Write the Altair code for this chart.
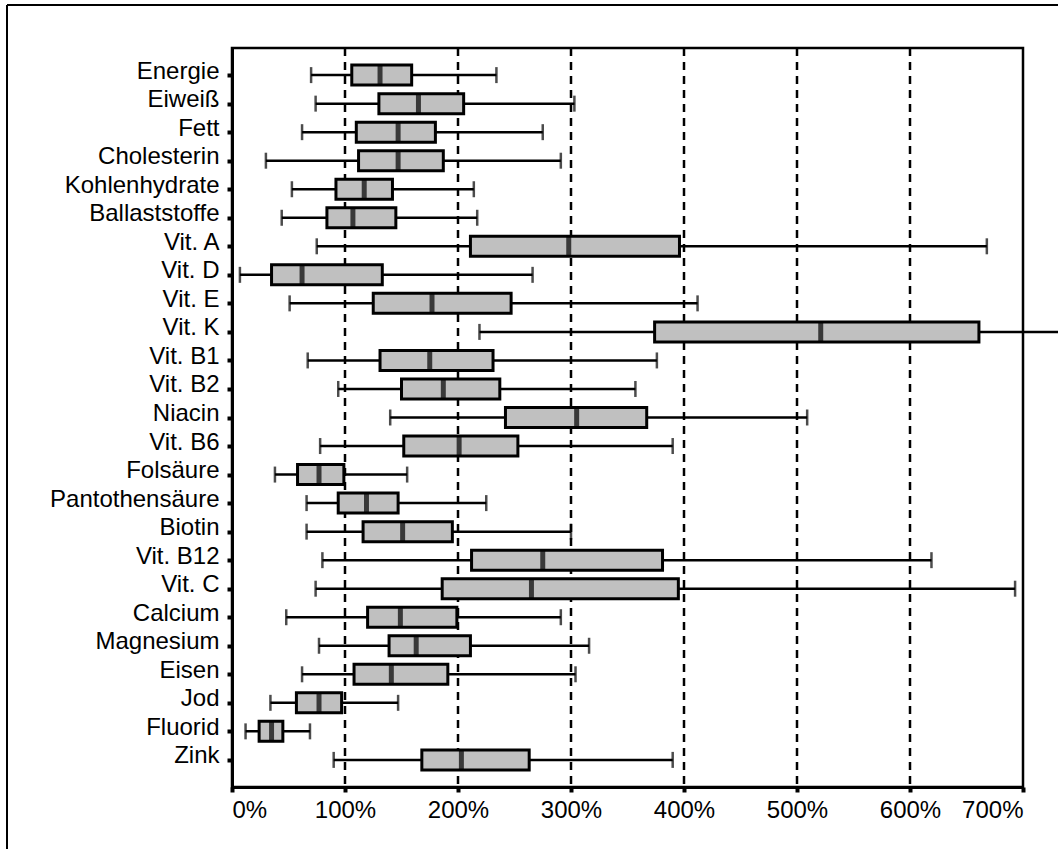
import altair as alt
import pandas as pd

NB = "\u00a0"
names = ["Energie", "Eiweiß" + NB, "Fett", "Cholesterin", "Kohlenhydrate", "Ballaststoffe" + NB,
         "Vit. A", "Vit. D", "Vit. E", "Vit. K", "Vit. B1", "Vit. B2", "Niacin", "Vit. B6",
         "Folsäure", "Pantothensäure", "Biotin", "Vit. B12", "Vit. C", "Calcium",
         "Magnesium", "Eisen", "Jod", "Fluorid", "Zink"]
low = [70, 74, 62, 30, 53, 44, 75, 7, 51, 219, 67, 94, 140, 78, 38, 66, 66, 80, 74, 48, 77, 62, 34, 12, 90]
q1 = [106, 130, 110, 112, 92, 84, 211, 35, 125, 374, 131, 150, 242, 152, 58, 94, 116, 212, 186, 120, 139, 108, 57, 24, 168]
med = [131, 165, 147, 147, 117, 107, 298, 62, 177, 521, 175, 187, 305, 201, 77, 119, 151, 275, 265, 149, 163, 141, 77, 35, 203]
q3 = [159, 205, 180, 187, 142, 145, 396, 133, 247, 661, 231, 237, 367, 253, 99, 147, 195, 381, 395, 199, 211, 191, 97, 45, 263]
high = [234, 303, 275, 291, 214, 217, 668, 266, 412, 740, 376, 357, 509, 390, 155, 225, 300, 619, 693, 291, 316, 304, 147, 69, 390]
x_ticks = [0, 100, 200, 300, 400, 500, 600, 700]
grid_values = [100, 200, 300, 400, 500, 600]

df = pd.DataFrame({"name": names, "low": low, "q1": q1, "med": med, "q3": q3, "high": high})
grid_df = pd.DataFrame({"v": grid_values})

FONT = "Liberation Sans"
FS = 24
xscale = alt.Scale(domain=[0, 700], nice=False, zero=False)
yscale = alt.Scale(type="point", domain=names, padding=0.95)

xaxis = alt.Axis(values=x_ticks, labelExpr="datum.value + '%'", title=None, grid=False,
                 domainColor="black", domainWidth=3, tickColor="black", tickSize=5, tickWidth=4,
                 labelFont=FONT, labelFontSize=FS, labelColor="black", labelPadding=6)
yaxis = alt.Axis(title=None, grid=False, domainColor="black", domainWidth=3, tickColor="black",
                 tickSize=5, tickWidth=4, labelFont=FONT, labelFontSize=FS, labelColor="black",
                 labelPadding=8, labelBaseline="alphabetic", labelOffset=3)

base = alt.Chart(df)

grid = alt.Chart(grid_df).mark_rule(color="black", strokeWidth=2.5, strokeDash=[8, 6]).encode(
    x=alt.X("v:Q", scale=xscale, axis=xaxis)
)
whisker = base.mark_rule(color="black", strokeWidth=2.5).encode(
    x=alt.X("low:Q", scale=xscale, axis=xaxis),
    x2="high:Q",
    y=alt.Y("name:N", scale=yscale, axis=yaxis, sort=names),
)
cap_low = base.mark_tick(color="black", thickness=2.5, size=16).encode(
    x=alt.X("low:Q", scale=xscale, axis=xaxis),
    y=alt.Y("name:N", scale=yscale, axis=yaxis, sort=names),
)
cap_high = base.mark_tick(color="black", thickness=2.5, size=16).encode(
    x=alt.X("high:Q", scale=xscale, axis=xaxis),
    y=alt.Y("name:N", scale=yscale, axis=yaxis, sort=names),
)
box = base.mark_bar(size=20, fill="#c0c0c0", stroke="black", strokeWidth=3).encode(
    x=alt.X("q1:Q", scale=xscale, axis=xaxis),
    x2="q3:Q",
    y=alt.Y("name:N", scale=yscale, axis=yaxis, sort=names),
)
median = base.mark_tick(color="black", thickness=5, size=20).encode(
    x=alt.X("med:Q", scale=xscale, axis=xaxis),
    y=alt.Y("name:N", scale=yscale, axis=yaxis, sort=names),
)
border_top = alt.Chart(grid_df).mark_rule(color="black", strokeWidth=2).encode(
    x=alt.value(-225), x2=alt.value(830), y=alt.value(-43)
)
border_left = alt.Chart(grid_df).mark_rule(color="black", strokeWidth=2).encode(
    x=alt.value(-225), y=alt.value(-43), y2=alt.value(805)
)

chart = alt.layer(grid, whisker, cap_low, cap_high, box, median, border_top, border_left).properties(
    width=791, height=739,
    autosize=alt.AutoSizeParams(type="none"),
    padding={"left": 232, "top": 48, "right": 35, "bottom": 62},
    background="white",
).configure_view(stroke="black", strokeWidth=2.5)

chart.save("out.html", embed_options={"renderer": "svg", "actions": False})
